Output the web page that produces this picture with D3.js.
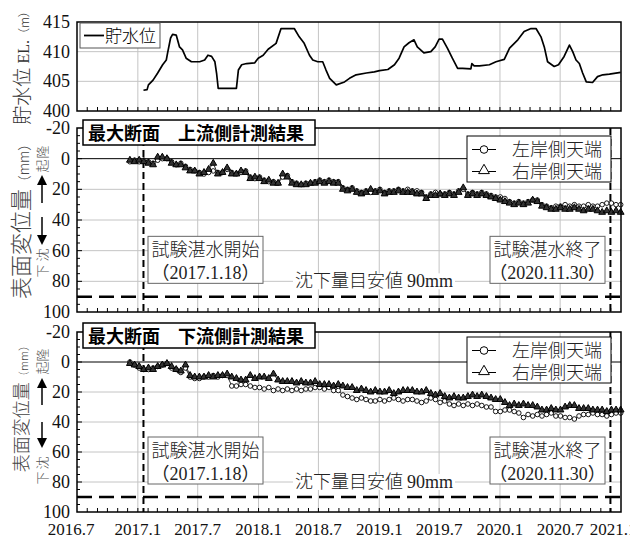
<!DOCTYPE html>
<html><head><meta charset="utf-8">
<script src="https://cdn.jsdelivr.net/npm/d3@7"></script>
<style>body{margin:0;background:#fff}svg{display:block}</style>
</head><body>
<svg id="chart" width="630" height="538"></svg>
<script>
// ---- reservoir water level (EL. m) ----
const levelDates = ["2017-01-18","2017-01-29","2017-02-02","2017-02-16","2017-03-02","2017-03-17","2017-03-28","2017-04-01","2017-04-10","2017-04-16",
"2017-04-27","2017-05-07","2017-05-16","2017-05-27","2017-06-12","2017-07-07","2017-07-22","2017-08-01","2017-08-12","2017-08-22",
"2017-08-27","2017-09-01","2017-10-26","2017-11-01","2017-11-11","2017-11-26","2017-12-20","2017-12-31","2018-01-15","2018-01-30",
"2018-02-23","2018-03-10","2018-03-25","2018-04-19","2018-05-04","2018-05-19","2018-06-04","2018-06-14","2018-06-29","2018-07-14",
"2018-07-24","2018-08-04","2018-08-24","2018-09-18","2018-10-03","2018-10-23","2018-11-23","2018-12-17","2019-01-02","2019-01-27",
"2019-02-16","2019-03-02","2019-03-17","2019-04-01","2019-04-16","2019-04-26","2019-05-16","2019-06-06","2019-06-19","2019-07-01",
"2019-07-11","2019-07-26","2019-08-10","2019-08-26","2019-09-10","2019-10-05","2019-10-08","2019-10-15","2019-10-31","2019-11-30",
"2019-12-20","2020-01-14","2020-01-30","2020-02-24","2020-03-14","2020-04-04","2020-04-19","2020-05-04","2020-05-14","2020-05-24",
"2020-06-13","2020-06-26","2020-07-13","2020-07-29","2020-08-08","2020-08-18","2020-08-28","2020-09-07","2020-09-18","2020-10-07",
"2020-10-22","2020-11-07","2020-11-27","2020-12-31"];
const levelValues = [403.5,403.6,404.4,405.2,406.4,407.8,408.6,409.8,412.3,412.9,
412.8,410.8,410.3,408.9,408.3,408.3,408.6,409.4,409.2,408.3,
406.4,403.8,403.8,406.9,407.8,408.0,408.1,408.9,409.4,410.4,
411.4,413.9,413.9,413.9,412.5,411.4,409.4,408.6,408.3,408.3,
406.9,405.5,404.4,404.9,405.5,406.1,406.4,406.6,406.8,407.0,
407.8,408.9,410.8,411.5,412.0,410.8,409.8,410.0,410.8,412.1,
412.1,410.6,408.9,407.2,407.2,407.1,408.0,407.6,407.6,407.8,
408.3,408.7,410.6,412.0,413.4,413.9,413.9,412.5,410.8,408.3,
407.5,407.8,409.2,411.1,410.0,408.6,408.0,406.4,404.9,404.8,
405.8,406.1,406.2,406.5];

// ---- crest surface displacement survey (mm, + = settlement) ----
const surveyDates = ["2016-12-08","2016-12-22",
"2017-01-05","2017-01-19","2017-02-02","2017-02-16","2017-03-02","2017-03-16","2017-03-30","2017-04-13","2017-04-27","2017-05-11","2017-05-25","2017-06-08","2017-06-22",
"2017-07-06","2017-07-20","2017-08-03","2017-08-17","2017-08-31","2017-09-14","2017-09-28","2017-10-12","2017-10-26","2017-11-09","2017-11-23","2017-12-07","2017-12-21",
"2018-01-04","2018-01-18","2018-02-01","2018-02-15","2018-03-01","2018-03-15","2018-03-29","2018-04-12","2018-04-26","2018-05-10","2018-05-24","2018-06-07","2018-06-21",
"2018-07-05","2018-07-19","2018-08-02","2018-08-16","2018-08-30","2018-09-13","2018-09-27","2018-10-11","2018-10-25","2018-11-08","2018-11-22","2018-12-06","2018-12-20",
"2019-01-03","2019-01-17","2019-01-31","2019-02-14","2019-02-28","2019-03-14","2019-03-28","2019-04-11","2019-04-25","2019-05-09","2019-05-23","2019-06-06","2019-06-20",
"2019-07-04","2019-07-18","2019-08-01","2019-08-15","2019-08-29","2019-09-12","2019-09-26","2019-10-10","2019-10-24","2019-11-07","2019-11-21","2019-12-05","2019-12-19",
"2020-01-02","2020-01-16","2020-01-30","2020-02-13","2020-02-27","2020-03-12","2020-03-26","2020-04-09","2020-04-23","2020-05-07","2020-05-21","2020-06-04","2020-06-18",
"2020-07-02","2020-07-16","2020-07-30","2020-08-13","2020-08-27","2020-09-10","2020-09-24","2020-10-08","2020-10-22","2020-11-05","2020-11-19","2020-12-03","2020-12-17","2020-12-31"];

const upLeft = [2,1,2,1,2,3,1,0,0,2, 4,3,5,7,8,9,10,9,8,9, 9,7,9,10,9,8,12,13,12,14,
15,15,16,12,11,15,16,17,16,16, 15,14,15,14,15,15,19,20,19,21, 22,21,22,21,20,22,21,21,20,21,
20,21,21,22,25,23,22,23,23,22, 23,21,20,23,22,23,22,23,24,25, 25,26,28,29,28,29,28,27,27,30,
31,32,31,31,30,31,30,31,31,30, 31,31,30,29,29,30,30];
const upRight = [1,2,1,2,3,4,-1,-1,0,3, 4,4,6,8,8,10,9,7,3,10, 9,6,10,10,8,9,13,12,13,15,
14,16,16,10,12,16,17,17,17,16, 16,15,16,15,16,16,20,21,20,22, 23,22,20,22,21,23,22,22,21,22,
22,22,23,23,26,24,24,23,24,23, 24,22,19,24,23,24,23,24,25,26, 27,28,29,30,29,30,29,27,28,31,
32,33,33,32,33,33,32,33,34,33, 33,34,35,34,35,34,35];
const downLeft = [0,2,4,5,5,4,3,2,1,4, 5,7,4,10,11,11,10,10,9,10, 9,9,16,16,15,15,16,17,17,18,
17,19,18,19,18,19,18,19,18,18, 17,17,18,17,19,19,22,23,24,25, 24,25,26,26,25,26,25,24,25,26,
25,25,26,27,26,24,25,27,26,28, 29,28,29,28,29,28,29,30,30,33, 33,32,32,33,34,37,35,36,35,36,
35,34,36,36,37,37,38,36,35,35, 34,35,35,36,35,34,34];
const downRight = [1,2,3,5,4,5,3,2,1,3, 5,6,2,9,10,10,10,9,10,9, 9,8,10,11,12,12,9,11,10,10,
11,8,12,13,13,13,14,13,14,14, 13,15,15,15,16,15,16,17,17,19, 18,19,20,19,20,20,19,21,20,19,
19,19,20,20,19,21,22,21,23,24, 23,24,24,23,22,23,22,23,24,25, 25,27,29,28,29,28,29,29,30,32,
32,31,32,32,30,29,29,31,31,31, 32,32,32,33,32,32,32];

// ---- axes, events, labels ----
const xTickLabels = ["2016.7","2017.1","2017.7","2018.1","2018.7","2019.1","2019.7","2020.1","2020.7","2021.1"];
const levelTicks = [400,405,410,415];
const dispTicks = [-20,0,20,40,60,80,100];
const impoundStart = "2017-01-18";
const impoundEnd = "2020-11-30";
const settlementLimit = 90;
const legendNames = ["左岸側天端","右岸側天端"];

const parse = d3.timeParse("%Y-%m-%d");
const tickDate = s => { const [y,m] = s.split("."); return new Date(+y, +m - 1, 1); };
const svg = d3.select("#chart");
const SERIF = "'Liberation Serif','Times New Roman','Noto Sans CJK JP',serif";
const GOTH = "'Noto Sans CJK JP',sans-serif";

const X0 = 77, X1 = 621;
const x = d3.scaleTime()
  .domain([tickDate(xTickLabels[0]), tickDate(xTickLabels[xTickLabels.length - 1])])
  .range([X0, X1]);
const months = d3.timeMonth.range(x.domain()[0], x.domain()[1]);
const gridDates = xTickLabels.map(tickDate);

function frame(y, top, bottom, hGrid) {
  const g = svg.append("g");
  // vertical half-year grid
  g.selectAll(".vg").data(gridDates.slice(1, -1)).join("line")
    .attr("x1", d => x(d)).attr("x2", d => x(d))
    .attr("y1", top).attr("y2", bottom)
    .attr("stroke", "#c4c4c4").attr("stroke-width", 1);
  g.selectAll(".hg").data(hGrid).join("line")
    .attr("x1", X0).attr("x2", X1)
    .attr("y1", d => y(d)).attr("y2", d => y(d))
    .attr("stroke", "#c4c4c4").attr("stroke-width", 1);
  return g;
}
function frameTop(y, top, bottom, minor) {
  const g = svg.append("g");
  // monthly ticks along the bottom, pointing inward
  g.selectAll("line.mt").data(months.slice(1)).join("line")
    .attr("x1", d => x(d)).attr("x2", d => x(d))
    .attr("y1", bottom).attr("y2", bottom - 4)
    .attr("stroke", "#000").attr("stroke-width", 1);
  if (minor) {
    g.selectAll("line.yt").data(minor).join("line")
      .attr("x1", X0).attr("x2", d => X0 + (d % 20 === 0 ? 5 : 3))
      .attr("y1", d => y(d)).attr("y2", d => y(d))
      .attr("stroke", "#000").attr("stroke-width", 1);
  }
  g.append("rect").attr("x", X0).attr("y", top).attr("width", X1 - X0).attr("height", bottom - top)
    .attr("fill", "none").attr("stroke", "#000").attr("stroke-width", 1.5);
  return g;
}
function yLabels(y, ticks) {
  svg.append("g").selectAll("text").data(ticks).join("text")
    .attr("x", 70).attr("y", d => y(d) + 6)
    .attr("text-anchor", "end").attr("font-family", SERIF).attr("font-size", 18)
    .attr("fill", "#111").text(d => d);
}

// ================= reservoir panel =================
const yL = d3.scaleLinear().domain([400, 415]).range([111, 22]);
frame(yL, 22, 111, [405, 410]);
const levelData = levelDates.map((d, i) => ({ date: parse(d), v: levelValues[i] }));
svg.append("path").datum(levelData)
  .attr("d", d3.line().x(d => x(d.date)).y(d => yL(d.v)))
  .attr("fill", "none").attr("stroke", "#000").attr("stroke-width", 1.7).attr("stroke-linejoin", "round");
frameTop(yL, 22, 111, null);
yLabels(yL, levelTicks);
// legend
svg.append("rect").attr("x", 80).attr("y", 23).attr("width", 80).attr("height", 25)
  .attr("fill", "#fff").attr("stroke", "#555").attr("stroke-width", 1);
svg.append("line").attr("x1", 84).attr("x2", 104).attr("y1", 35.5).attr("y2", 35.5)
  .attr("stroke", "#000").attr("stroke-width", 1.8);
svg.append("text").attr("x", 105).attr("y", 42).attr("font-family", GOTH).attr("font-size", 17)
  .attr("font-weight", 300).text("貯水位");
// axis title
{
  const t = svg.append("text").attr("transform", "translate(29,65) rotate(-90)")
    .attr("text-anchor", "middle").attr("font-family", SERIF).attr("fill", "#333");
  t.append("tspan").attr("font-size", 19).attr("font-family", GOTH).attr("font-weight", 300).text("貯水位 ");
  t.append("tspan").attr("font-size", 16).text("EL.");
  t.append("tspan").attr("font-size", 12).attr("font-family", GOTH).attr("font-weight", 300).text("（m）");
}

// ================= displacement panels =================
function dispPanel(top, bottom, title, left, right, titleBox, legendTop, labelFont, labelY, side) {
  const y = d3.scaleLinear().domain([-20, 100]).range([top, bottom]);
  frame(y, top, bottom, [20, 40, 60, 80]);
  // zero line
  svg.append("line").attr("x1", X0).attr("x2", X1).attr("y1", y(0)).attr("y2", y(0))
    .attr("stroke", "#000").attr("stroke-width", 1);

  // annotation boxes
  const boxH = 47, boxTop = y(80) - 45;
  [[impoundStart, "試験湛水開始", 148], [impoundEnd, "試験湛水終了", 490]].forEach(([d, name, bx]) => {
    const [yy, mm, dd] = d.split("-").map(Number);
    svg.append("rect").attr("x", bx).attr("y", boxTop).attr("width", 115).attr("height", boxH)
      .attr("fill", "#fff").attr("stroke", "#666").attr("stroke-width", 1);
    svg.append("text").attr("x", bx + 57.5).attr("y", boxTop + 20).attr("text-anchor", "middle")
      .attr("font-family", GOTH).attr("font-weight", 300).attr("font-size", 18).attr("fill", "#222").text(name);
    svg.append("text").attr("x", bx + 57.5).attr("y", boxTop + 43).attr("text-anchor", "middle")
      .attr("font-family", SERIF).attr("font-size", 18).attr("fill", "#222")
      .text(`（${yy}.${mm}.${dd}）`);
  });
  // settlement guideline label
  const lt = svg.append("text").attr("x", 374).attr("y", y(80) + 6).attr("text-anchor", "middle")
    .attr("font-family", SERIF).attr("font-size", 18).attr("fill", "#222");
  lt.append("tspan").attr("font-family", GOTH).attr("font-weight", 300).text("沈下量目安値 ");
  lt.append("tspan").text(`${settlementLimit}mm`);
  const bb = lt.node().getBBox();
  svg.insert("rect", () => lt.node()).attr("x", bb.x - 2).attr("y", y(80) - 8)
    .attr("width", bb.width + 4).attr("height", 16).attr("fill", "#fff");

  // dashed reference lines
  svg.append("line").attr("x1", X0).attr("x2", X1).attr("y1", y(settlementLimit)).attr("y2", y(settlementLimit))
    .attr("stroke", "#000").attr("stroke-width", 2.5).attr("stroke-dasharray", "15,7");
  [impoundStart, impoundEnd].forEach(d => {
    svg.append("line").attr("x1", x(parse(d))).attr("x2", x(parse(d)))
      .attr("y1", top).attr("y2", bottom)
      .attr("stroke", "#000").attr("stroke-width", 2).attr("stroke-dasharray", "7,4");
  });

  // series
  const L = surveyDates.map((d, i) => ({ date: parse(d), v: left[i] }));
  const R = surveyDates.map((d, i) => ({ date: parse(d), v: right[i] }));
  const line = d3.line().x(d => x(d.date)).y(d => y(d.v));
  svg.append("path").datum(L).attr("d", line).attr("fill", "none").attr("stroke", "#000").attr("stroke-width", 0.8);
  svg.append("path").datum(R).attr("d", line).attr("fill", "none").attr("stroke", "#000").attr("stroke-width", 0.8);
  svg.append("g").selectAll("circle").data(L).join("circle")
    .attr("cx", d => x(d.date)).attr("cy", d => y(d.v)).attr("r", 2.3)
    .attr("fill", "#fff").attr("stroke", "#000").attr("stroke-width", 0.9);
  const tri = d3.symbol(d3.symbolTriangle, 20);
  svg.append("g").selectAll("path").data(R).join("path")
    .attr("transform", d => `translate(${x(d.date)},${y(d.v)})`).attr("d", tri)
    .attr("fill", "#333").attr("stroke", "#000").attr("stroke-width", 1);

  frameTop(y, top, bottom, d3.range(-20, 101, 5).slice(1, -1));
  yLabels(y, dispTicks);

  // title box
  svg.append("rect").attr("x", 83).attr("y", titleBox).attr("width", 232).attr("height", 25)
    .attr("fill", "#fff").attr("stroke", "#000").attr("stroke-width", 1.5);
  svg.append("text").attr("x", 88).attr("y", titleBox + 19.5).attr("font-family", GOTH)
    .attr("font-weight", "bold").attr("font-size", 18).text(title);

  // legend
  const lg = svg.append("g").attr("transform", `translate(467,${legendTop})`);
  lg.append("rect").attr("width", 144).attr("height", 46).attr("fill", "#fff")
    .attr("stroke", "#000").attr("stroke-width", 1);
  legendNames.forEach((n, i) => {
    const cy = 13.5 + i * 22;
    lg.append("line").attr("x1", 5).attr("x2", 29).attr("y1", cy).attr("y2", cy).attr("stroke", "#000");
    if (i === 0) lg.append("circle").attr("cx", 17).attr("cy", cy).attr("r", 3.8)
      .attr("fill", "#fff").attr("stroke", "#000");
    else lg.append("path").attr("transform", `translate(17,${cy - 1})`)
      .attr("d", d3.symbol(d3.symbolTriangle, 50)).attr("fill", "#fff").attr("stroke", "#000");
    lg.append("text").attr("x", 45).attr("y", cy + 6.5).attr("font-family", GOTH).attr("font-weight", 300)
      .attr("font-size", 18).attr("fill", "#222").text(n);
  });

  // axis title
  const t = svg.append("text").attr("transform", `translate(${labelFont > 20 ? 29 : 28},${labelY}) rotate(-90)`)
    .attr("text-anchor", "middle").attr("font-family", GOTH).attr("font-weight", 300).attr("fill", "#444");
  t.append("tspan").attr("font-size", labelFont).text("表面変位量");
  t.append("tspan").attr("font-size", labelFont * 0.62).text("（mm）");

  // direction markers
  const sx = 42;
  const sg = svg.append("g").attr("font-family", GOTH).attr("font-weight", 300).attr("font-size", 13).attr("fill", "#555");
  side.up.concat(side.down).forEach(([ch, cy]) => sg.append("text")
    .attr("transform", `translate(${sx + 5},${cy}) rotate(-90)`)
    .attr("text-anchor", "middle").text(ch));
  const arrow = (y0, y1) => {
    const dir = Math.sign(y1 - y0);
    svg.append("line").attr("x1", sx).attr("x2", sx).attr("y1", y0).attr("y2", y1 - dir * 8)
      .attr("stroke", "#000").attr("stroke-width", 1.5);
    svg.append("path").attr("d", `M${sx - 5},${y1 - dir * 10}L${sx + 5},${y1 - dir * 10}L${sx},${y1}Z`).attr("fill", "#000");
  };
  arrow(side.arrowUp[0], side.arrowUp[1]);
  arrow(side.arrowDown[0], side.arrowDown[1]);
}

dispPanel(128, 312, "最大断面　上流側計測結果", upLeft, upRight, 120, 136, 22, 218,
  { up: [["隆", 152], ["起", 166]], down: [["沈", 255], ["下", 271]], arrowUp: [203, 175], arrowDown: [217, 245] });
dispPanel(332, 512, "最大断面　下流側計測結果", downLeft, downRight, 323, 337, 18, 406,
  { up: [["隆", 355], ["起", 368]], down: [["沈", 463], ["下", 478]], arrowUp: [405, 378], arrowDown: [422, 448] });

// x-axis tick labels
svg.append("g").selectAll("text").data(xTickLabels).join("text")
  .attr("x", (d, i) => x(tickDate(d)) + (i === 0 ? -6 : i === xTickLabels.length - 1 ? -8 : 0))
  .attr("y", 535).attr("text-anchor", "middle").attr("font-family", SERIF).attr("font-size", 17)
  .attr("fill", "#111").text(d => d);
</script>
</body></html>
